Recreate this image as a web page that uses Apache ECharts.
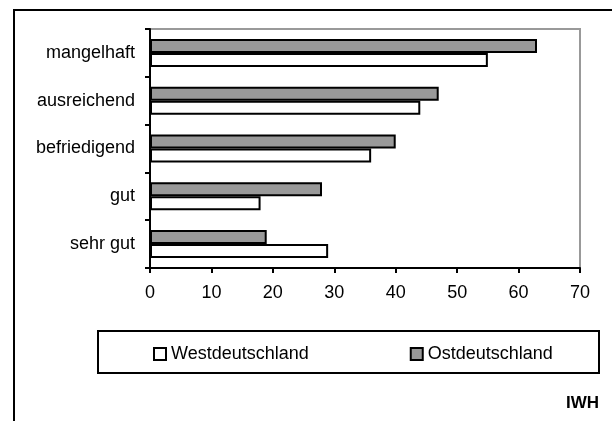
<!DOCTYPE html>
<html>
<head>
<meta charset="utf-8">
<script src="https://cdn.jsdelivr.net/npm/echarts@6/dist/echarts.min.js"></script>
<style>html,body{margin:0;padding:0;background:#fff}#c{width:612px;height:421px}</style>
</head>
<body>
<div id="c"></div>
<script>
var categories = ['sehr gut', 'gut', 'befriedigend', 'ausreichend', 'mangelhaft'];
var west = [29, 18, 36, 44, 55];
var ost = [19, 28, 40, 47, 63];
var xTicks = [0, 10, 20, 30, 40, 50, 60, 70];
var seriesNames = ['Westdeutschland', 'Ostdeutschland'];
var sourceLabel = 'IWH';

var FONT = '"Liberation Sans", Arial, sans-serif';
var chart = echarts.init(document.getElementById('c'), null, {renderer: 'canvas'});
chart.setOption({
  animation: false,
  backgroundColor: '#fff',
  grid: {left: 150, right: 32, top: 29, bottom: 153, show: true, borderColor: '#999', borderWidth: 2, backgroundColor: 'transparent'},
  xAxis: {
    type: 'value', min: xTicks[0], max: xTicks[xTicks.length - 1], interval: 10,
    axisLine: {show: true, lineStyle: {color: '#000', width: 2}},
    axisTick: {show: true, length: 5, lineStyle: {color: '#000', width: 2}},
    axisLabel: {color: '#000', fontSize: 18, fontFamily: FONT, margin: 16},
    splitLine: {show: false}
  },
  yAxis: {
    type: 'category', data: categories,
    axisLine: {show: true, lineStyle: {color: '#000', width: 2}},
    axisTick: {show: true, length: 5, lineStyle: {color: '#000', width: 2}},
    axisLabel: {color: '#000', fontSize: 18, fontFamily: FONT, margin: 15},
    splitLine: {show: false}
  },
  legend: {
    left: 148, top: 340, itemWidth: 12, itemHeight: 12, itemGap: 101, icon: 'rect',
    textStyle: {color: '#000', fontSize: 18, fontFamily: FONT},
    data: seriesNames
  },
  series: [
    {name: seriesNames[1], type: 'bar', data: ost, barWidth: 14, barGap: '0%',
     itemStyle: {color: '#999', borderColor: '#000', borderWidth: 2}},
    {name: seriesNames[0], type: 'bar', data: west, barWidth: 14, barGap: '0%',
     itemStyle: {color: '#fff', borderColor: '#000', borderWidth: 2}}
  ],
  graphic: [
    {type: 'rect', silent: true, z: -1, shape: {x: 14, y: 10, width: 700, height: 500}, style: {fill: 'none', stroke: '#000', lineWidth: 2}},
    {type: 'rect', silent: true, shape: {x: 98, y: 331, width: 501, height: 42}, style: {fill: 'none', stroke: '#000', lineWidth: 2}},
    {type: 'text', silent: true, right: 13, top: 395, style: {text: sourceLabel, fill: '#000', font: 'bold 17px ' + FONT}}
  ]
});
</script>
</body>
</html>
